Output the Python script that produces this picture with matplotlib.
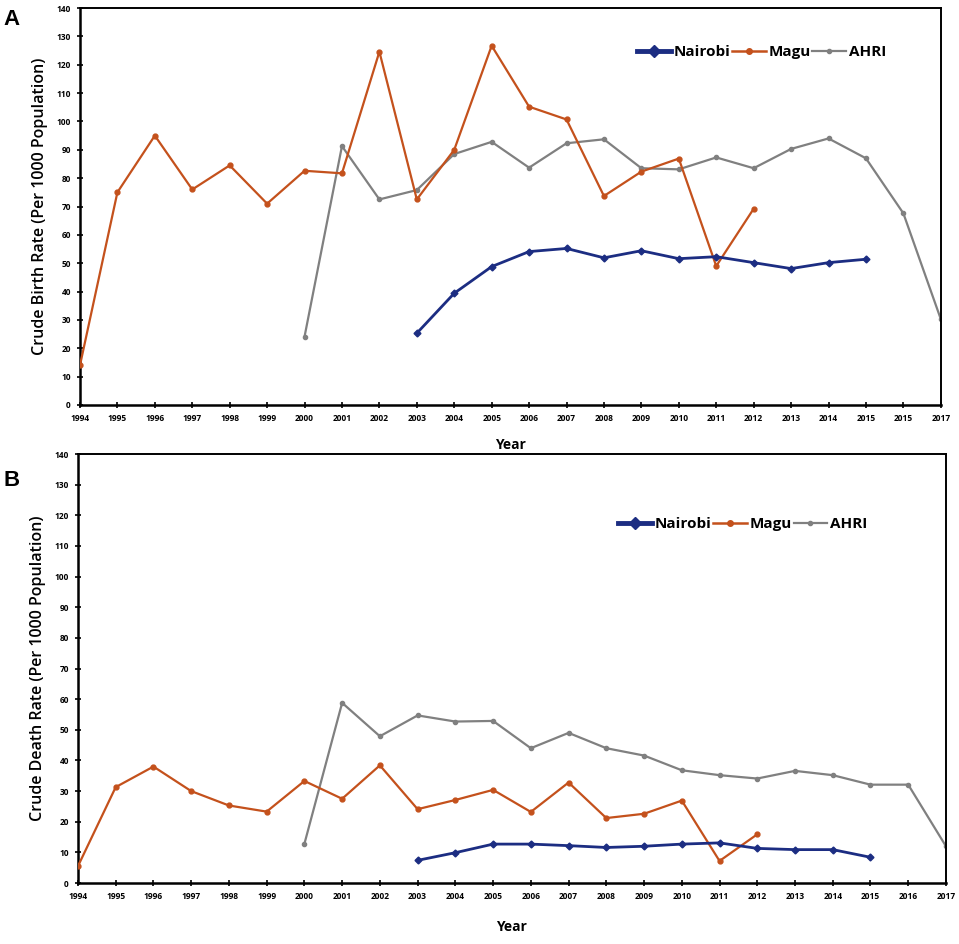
import matplotlib
matplotlib.use("Agg")
import matplotlib.pyplot as plt
from matplotlib.lines import Line2D

years = list(range(1994, 2018))
# tick labels as printed (top panel shows "2015" twice)
xlabels_a = [str(y) for y in years]
xlabels_a[22] = "2015"
xlabels_b = [str(y) for y in years]

# Panel A - crude birth rate
magu_years = list(range(1994, 2013))
magu_birth = [14, 75, 95, 76, 84.5, 71, 82.6, 81.7, 124.6, 72.5, 90, 126.7,
              105.2, 100.7, 73.7, 82.3, 86.9, 49, 69.2]
ahri_years = list(range(2000, 2018))
ahri_birth = [24.1, 91.3, 72.5, 75.8, 88.5, 92.8, 83.7, 92.3, 93.7, 83.5,
              83.1, 87.3, 83.5, 90.3, 94, 87, 67.6, 30.3]
nairobi_years = list(range(2003, 2016))
nairobi_birth = [25.3, 39.4, 48.8, 54.1, 55.2, 51.9, 54.4, 51.6, 52.3, 50.2,
                 48.1, 50.2, 51.4]

# Panel B - crude death rate
magu_death = [5.5, 31.3, 38, 30, 25.3, 23.3, 33.3, 27.5, 38.4, 24.1, 27.1,
              30.4, 23.2, 32.8, 21.2, 22.6, 26.9, 7.2, 15.9]
ahri_death = [12.8, 58.8, 47.9, 54.7, 52.7, 52.9, 44, 49, 44, 41.6, 36.8,
              35.2, 34.1, 36.6, 35.2, 32.1, 32.1, 12]
nairobi_death = [7.4, 9.9, 12.7, 12.7, 12.2, 11.6, 12, 12.7, 13.1, 11.3,
                 10.9, 10.9, 8.4]

NAVY = "#1c2d82"
ORANGE = "#c4511c"
GREY = "#808080"

plt.rcParams['font.family'] = ['Open Sans', 'DejaVu Sans']

fig = plt.figure(figsize=(9.59, 9.44), dpi=100)
ax_a = fig.add_axes([0.0834, 0.571, 0.8976, 0.4205])
ax_b = fig.add_axes([0.0813, 0.0646, 0.9051, 0.4544])


def draw(ax, magu, ahri, nairobi, ylabel, xlabels, legend_xy, xpad):
    ax.plot(magu_years, magu, color=ORANGE, lw=1.6, marker='o', ms=3.5, zorder=3)
    ax.plot(ahri_years, ahri, color=GREY, lw=1.6, marker='o', ms=3, zorder=2)
    ax.plot(nairobi_years, nairobi, color=NAVY, lw=2.0, marker='D', ms=3.5, zorder=4)
    ax.set_xlim(1994, 2017)
    ax.set_ylim(0, 140)
    ax.set_yticks(range(0, 141, 10))
    ax.set_xticks(years)
    ax.set_xticklabels(xlabels)
    ax.tick_params(axis='both', direction='inout', length=5, width=1.2,
                   labelsize=6, pad=4)
    for lab in ax.get_xticklabels() + ax.get_yticklabels():
        lab.set_fontweight('bold')
    ax.set_ylabel(ylabel, fontsize=11.5, fontweight='semibold', labelpad=6)
    ax.set_xlabel("Year", fontsize=10, fontweight='bold', labelpad=xpad)
    for s in ['left', 'bottom']:
        ax.spines[s].set_linewidth(1.8)
    for s in ['top', 'right']:
        ax.spines[s].set_linewidth(1.4)
    handles = [
        Line2D([], [], color=NAVY, lw=3.5, marker='D', ms=6),
        Line2D([], [], color=ORANGE, lw=1.8, marker='o', ms=4),
        Line2D([], [], color=GREY, lw=1.6, marker='o', ms=3),
    ]
    ax.legend(handles, ["Nairobi", "Magu", "AHRI"], ncol=3, frameon=False,
              loc='center', bbox_to_anchor=legend_xy,
              prop={'size': 11, 'weight': 'bold'}, handlelength=2.2,
              handletextpad=0.2, columnspacing=0.1)


draw(ax_a, magu_birth, ahri_birth, nairobi_birth,
     "Crude Birth Rate (Per 1000 Population)", xlabels_a, (0.792, 0.889), 11)
draw(ax_b, magu_death, ahri_death, nairobi_death,
     "Crude Death Rate (Per 1000 Population)", xlabels_b, (0.766, 0.837), 14)

fig.text(0.004, 0.99, "A", fontsize=16, fontweight='bold',
         family='Liberation Sans', va='top')
fig.text(0.004, 0.502, "B", fontsize=16, fontweight='bold',
         family='Liberation Sans', va='top')

fig.savefig("out.png", dpi=100)
